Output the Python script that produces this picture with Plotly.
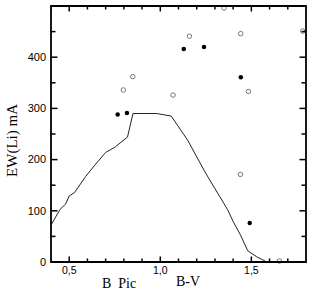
import plotly.graph_objects as go

# Curve (model)
curve_x = [0.40, 0.45, 0.48, 0.50, 0.53, 0.59, 0.64, 0.70, 0.75, 0.82, 0.85, 0.98, 1.06, 1.15, 1.25, 1.37, 1.40, 1.44, 1.48, 1.53, 1.575]
curve_y = [72, 103, 113, 129, 136, 167, 189, 214, 224, 244, 290, 290, 285, 238, 173, 102, 79, 53, 22, 10, 2]

# Filled circles
filled_x = [0.766, 0.817, 1.129, 1.240, 1.442, 1.491]
filled_y = [288, 291, 416, 420, 361, 76]

# Open circles
open_x = [0.797, 0.849, 1.070, 1.160, 1.350, 1.442, 1.484, 1.440, 1.782, 1.654]
open_y = [336, 362, 326, 441, 496, 446, 333, 171, 451, 2]

# Tick positions
x_major = [0.5, 1.0, 1.5]
x_minor = [0.4, 0.6, 0.7, 0.8, 0.9, 1.1, 1.2, 1.3, 1.4, 1.6, 1.7]
y_major = [100, 200, 300, 400]
y_minor = [50, 150, 250, 350, 450]

x_range = [0.4, 1.8]
y_range = [0, 500]

serif = "Liberation Serif, Times New Roman, serif"
W, H = 311, 294
ML, MR, MT, MB = 51, 5, 6, 32
PW, PH = W - ML - MR, H - MT - MB

fig = go.Figure()
fig.add_trace(go.Scatter(x=curve_x, y=curve_y, mode="lines",
                         line=dict(color="#222", width=1), showlegend=False, cliponaxis=False))
fig.add_trace(go.Scatter(x=filled_x, y=filled_y, mode="markers",
                         marker=dict(color="black", size=4.5), showlegend=False))
fig.add_trace(go.Scatter(x=open_x, y=open_y, mode="markers",
                         marker=dict(symbol="circle-open", color="#777", size=4.5, line=dict(width=1)),
                         showlegend=False, cliponaxis=False))

# Tick marks drawn as line segments through the axes' own scales
tx, ty = [], []
for vals, length in ((x_major, 5.5), (x_minor, 3.5)):
    d = length * (y_range[1] - y_range[0]) / PH
    for v in vals:
        tx += [v, v, None, v, v, None]
        ty += [y_range[0], y_range[0] + d, None, y_range[1] - d, y_range[1], None]
for vals, length in ((y_major, 6.5), (y_minor, 4.5)):
    d = length * (x_range[1] - x_range[0]) / PW
    for v in vals:
        tx += [x_range[0], x_range[0] + d, None, x_range[1] - d, x_range[1], None]
        ty += [v, v, None, v, v, None]
fig.add_trace(go.Scatter(x=tx, y=ty, mode="lines", connectgaps=False,
                         line=dict(color="black", width=1.5), showlegend=False,
                         hoverinfo="skip"))

fig.update_layout(
    template="none",
    width=W, height=H,
    margin=dict(l=ML, r=MR, t=MT, b=MB),
    plot_bgcolor="white", paper_bgcolor="white",
    separators=",.",
    font=dict(family="Liberation Sans, Arial", size=11, color="black"),
    shapes=[dict(type="rect", xref="paper", yref="paper", x0=0, x1=1, y0=0, y1=1,
                 line=dict(color="black", width=1.8), layer="above")],
    annotations=[
        dict(text="B  Pic", x=0.267, y=-0.085, xref="paper", yref="paper", showarrow=False,
             xanchor="center", yanchor="middle", font=dict(family=serif, size=14)),
        dict(text="B-V", x=0.539, y=-0.077, xref="paper", yref="paper", showarrow=False,
             xanchor="center", yanchor="middle", font=dict(family=serif, size=14)),
        dict(text="EW(Li) mA", x=-0.149, y=0.473, xref="paper", yref="paper", showarrow=False,
             textangle=-90, xanchor="center", yanchor="middle", font=dict(family=serif, size=15)),
    ],
)
fig.update_xaxes(range=x_range, tickmode="array", tickvals=x_major, tickformat=".1f",
                 tickfont=dict(size=10.5), ticks="",
                 showline=False, showgrid=False, zeroline=False, automargin=False)
fig.update_yaxes(range=y_range, tickmode="linear", tick0=0, dtick=100,
                 tickfont=dict(size=11), ticks="",
                 showline=False, showgrid=False, zeroline=False, automargin=False,
                 ticklabelstandoff=4)
fig.write_html("out.html", config={"displayModeBar": False},
               post_script="document.body.style.margin='0';")
